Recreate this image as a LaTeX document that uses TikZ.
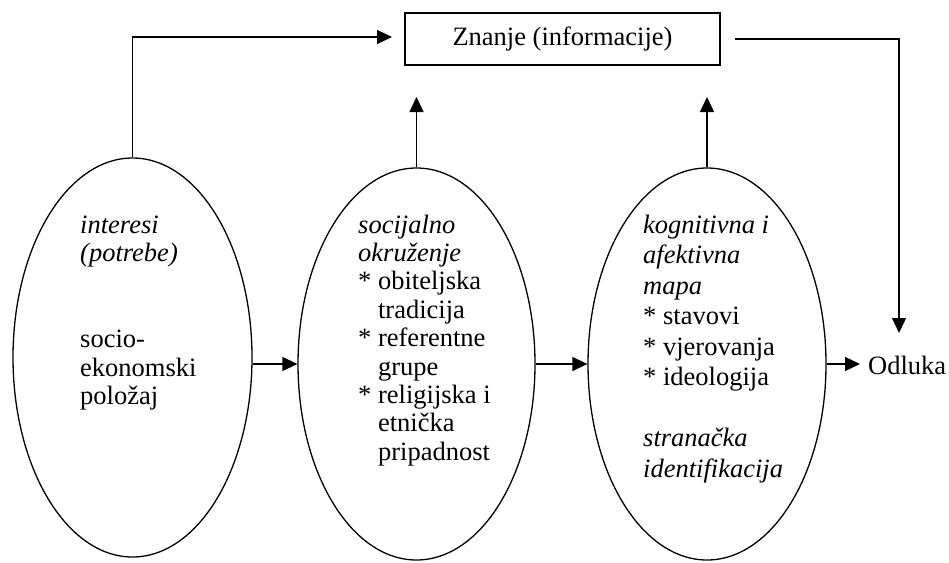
\documentclass[tikz,border=0pt]{standalone}
\usepackage{fontspec}
\setmainfont{Liberation Serif}
\usetikzlibrary{shapes.geometric,arrows.meta}
\newcommand{\hang}{\hphantom{* }}
\newcommand{\bul}{\relax* }
\begin{document}
\begin{tikzpicture}[x=1pt,y=-1pt,
  every node/.style={font=\fontsize{26.5}{28.4}\selectfont},
  oval/.style={ellipse,draw,line width=1.3pt,inner sep=0pt},
  arr/.style={line width=1.3pt,-{Triangle[length=15pt,width=14pt]}},
  txt/.style={anchor=base west,inner sep=0pt},
  ]
\useasboundingbox (0,0) rectangle (949,562);
% ellipses
\node[oval,minimum width=239pt,minimum height=399pt] (e1) at (132.5,357.5) {};
\node[oval,minimum width=237pt,minimum height=392pt] (e2) at (416.5,364) {};
\node[oval,minimum width=238pt,minimum height=392pt] (e3) at (707,364) {};
% box
\node[draw,line width=1.3pt,minimum width=315pt,minimum height=52pt,inner sep=0pt] (zn) at (562.5,39) {Znanje (informacije)};
% texts
\node[txt] (t1) at (80,233) {\fontsize{26.5}{28.6}\selectfont\begin{tabular}[t]{@{}l@{}}\textit{interesi}\\ \textit{(potrebe)}\\ \\ \\ socio-\\ ekonomski\\ položaj\end{tabular}};
\node[txt] (t2) at (358,233) {\fontsize{26.5}{28.4}\selectfont\begin{tabular}[t]{@{}l@{}}\textit{socijalno}\\ \textit{okruženje}\\ \bul obiteljska\\ \hang tradicija\\ \bul referentne\\ \hang grupe\\ \bul religijska i\\ \hang etnička\\ \hang pripadnost\end{tabular}};
\node[txt] (t3) at (643,233) {\fontsize{26.5}{30.5}\selectfont\begin{tabular}[t]{@{}l@{}}\textit{kognitivna i}\\ \textit{afektivna}\\ \textit{mapa}\\ \bul stavovi\\ \bul vjerovanja\\ \bul ideologija\\ \\ \textit{stranačka}\\ \textit{identifikacija}\end{tabular}};
\node[anchor=base west,inner xsep=8pt,inner ysep=0pt] (od) at (860,374) {Odluka};
% free ends
\coordinate (k1) at (392,37);
\coordinate (k2) at (735,39);
\coordinate (k3) at (899,333);
\coordinate (u2) at (416.5,97);
\coordinate (u3) at (707,97);
% connectors
\draw[arr] (e1.north) |- (k1);
\draw[arr] (k2) -| (k3);
\draw[arr] (e2.north) -- (u2);
\draw[arr] (e3.north) -- (u3);
\draw[arr] (e1.east |- e2.west) -- (e2.west);
\draw[arr] (e2.east) -- (e3.west);
\draw[arr] (e3.east) -- (e3.east -| od.west);
\end{tikzpicture}
\end{document}
